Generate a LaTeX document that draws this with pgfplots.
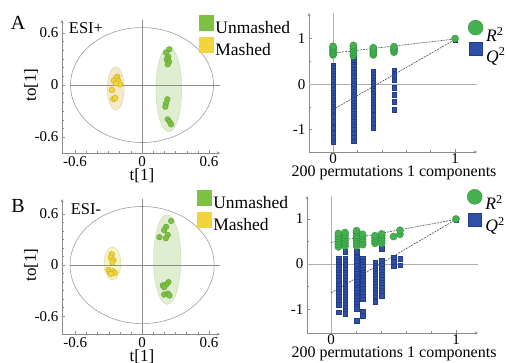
\documentclass[border=0pt]{standalone}
\usepackage{fontspec}
\setmainfont{Liberation Serif}
\usepackage{pgfplots}
\pgfplotsset{compat=1.18}

\definecolor{ugreen}{HTML}{7DC142}
\definecolor{ugreenE}{HTML}{5E9E2E}
\definecolor{uyellow}{HTML}{F2D43C}
\definecolor{uyellowE}{HTML}{C8A81A}
\definecolor{elgreen}{HTML}{DFEDD0}
\definecolor{elgreenE}{HTML}{C5DBAE}
\definecolor{elyelA}{HTML}{F4E8C6}
\definecolor{elyelAE}{HTML}{E0CE9C}
\definecolor{elyelB}{HTML}{F5F2C4}
\definecolor{elyelBE}{HTML}{DEDA9E}
\definecolor{rgreen}{HTML}{45B04F}
\definecolor{rgreenE}{HTML}{2E8B3A}
\definecolor{qblue}{HTML}{2F4FA8}
\definecolor{qblueE}{HTML}{233C86}
\definecolor{axgray}{HTML}{8C8C8C}

\pgfplotsset{
  base/.style={
    scale only axis, anchor=south west,
    axis lines=left,
    axis line style={draw=axgray, line width=0.5pt},
    tick align=inside,
    tick style={draw=axgray, line width=0.4pt},
    major tick length=3pt, minor tick length=2pt,
    /pgf/number format/assume math mode=true,
    ticklabel style={font=\fontsize{15}{15}\selectfont, text=black},
    label style={font=\fontsize{17}{17}\selectfont},
    clip=false,
    legend cell align=left,
    legend style={draw=none, fill=none, inner sep=0pt, outer sep=0pt, anchor=north west, row sep=0pt,
      font=\fontsize{17.5}{17.5}\selectfont,
      /tikz/every odd column/.append style={column sep=2pt}},
  },
  score/.style={base, xtick={-0.6,0,0.6}, ytick={-0.6,0,0.6},
     minor tick num=5,
     xlabel={t[1]}, ylabel={to[1]}},
  perm/.style={base, xtick={0,1}, ytick={-1,0,1},
     minor xtick={-0.2,0.2,0.4,0.6,0.8}, minor ytick={-0.5,0.5},
     xticklabel style={yshift=2pt},
     xlabel style={font=\fontsize{16}{16}\selectfont},
     xlabel={200 permutations 1 components}},
  yel/.style={only marks, mark=*, mark size=2.8pt, mark options={fill=uyellow, draw=uyellowE, line width=0.4pt}, forget plot},
  grn/.style={only marks, mark=*, mark size=2.8pt, mark options={fill=ugreen, draw=ugreenE, line width=0.4pt}, forget plot},
  rr/.style={only marks, mark=*, mark size=3.6pt, mark options={fill=rgreen, draw=rgreenE, line width=0.3pt}, forget plot},
  qq/.style={only marks, mark=square*, mark size=2.3pt, mark options={fill=qblue, draw=qblueE, line width=0.3pt}, forget plot},
  reg/.style={dash pattern=on 2pt off 1pt, draw=black!70, line width=0.6pt, forget plot, mark=none},
}

\begin{document}
\begin{tikzpicture}
\useasboundingbox (0pt,0pt) rectangle (508pt,362pt);

% ---------------- A left: score plot ESI+
\begin{axis}[score, at={(62pt,209pt)}, width=158pt, height=133pt,
  xmin=-0.716, xmax=0.698, ymin=-0.784, ymax=0.75,
  xlabel style={at={(axis description cs:0.506,-0.173)}, anchor=center},
  ylabel style={at={(axis description cs:-0.196,0.511)}, anchor=center},
  legend style={at={(axis description cs:0.867,1.038)},
    nodes={inner sep=0pt, text height=13.5pt, text depth=3.5pt}}]
\addlegendimage{legend image code/.code={\fill[ugreen] (0pt,-1.7pt) rectangle (14pt,13.3pt);}}
\addlegendentry{Unmashed}
\addlegendimage{legend image code/.code={\fill[uyellow] (0pt,-1.7pt) rectangle (14pt,13.3pt);}}
\addlegendentry{Mashed}
\draw[axgray!85, line width=0.6pt] (axis cs:0,0) ellipse [x radius=0.64, y radius=0.663];
\draw[fill=elyelA, draw=elyelAE, line width=0.4pt] (axis cs:-0.235,-0.04) ellipse [x radius=0.075, y radius=0.25];
\draw[fill=elgreen, draw=elgreenE, line width=0.4pt] (axis cs:0.24,-0.048) ellipse [x radius=0.115, y radius=0.49];
\draw[axgray, line width=0.5pt] (axis cs:-0.645,0) -- (axis cs:0.698,0);
\draw[axgray, line width=0.5pt] (axis cs:0,-0.784) -- (axis cs:0,0.75);
\addplot[yel] coordinates {(-0.221,0.096) (-0.233,0.077) (-0.251,0.050) (-0.212,0.046) (-0.197,0.008)
  (-0.233,0.019) (-0.269,-0.058) (-0.257,-0.162) (-0.241,-0.150)};
\addplot[grn] coordinates {(0.245,0.412) (0.215,0.373) (0.236,0.327) (0.221,0.296) (0.242,0.269) (0.230,0.239)
  (0.227,-0.165) (0.215,-0.211) (0.209,-0.250) (0.230,-0.396) (0.248,-0.427) (0.260,-0.454)};
\node[font=\fontsize{16.5}{16.5}\selectfont] at (axis description cs:0.152,0.94) {ESI+};
\end{axis}

% ---------------- A right: permutations
\begin{axis}[perm, at={(309pt,210pt)}, width=168pt, height=139pt,
  xmin=-0.197, xmax=1.18, ymin=-1.49, ymax=1.56,
  xlabel style={at={(axis description cs:0.506,-0.151)}, anchor=center},
  legend style={at={(axis description cs:0.946,0.95)},
    nodes={inner sep=0pt, text height=14.5pt, text depth=0.7pt},
    /tikz/every odd column/.append style={column sep=3pt}}]
\addlegendimage{legend image code/.code={\fill[rgreen, draw=rgreenE, line width=0.3pt] (7.5pt,7pt) circle (7.5pt);}}
\addlegendentry{\textit{R}\textsuperscript{2}}
\addlegendimage{legend image code/.code={\fill[qblue, draw=qblueE, line width=0.3pt] (1pt,0pt) rectangle (14pt,13pt);}}
\addlegendentry{\textit{Q}\textsuperscript{2}}
\draw[axgray!70, line width=0.5pt] (axis cs:-0.197,0) -- (axis cs:1.18,0);
\draw[axgray!70, line width=0.5pt] (axis cs:0,-1.49) -- (axis cs:0,1.56);
\addplot[qq] coordinates {
 (0,0.42) (0,0.36) (0,0.30) (0,0.24) (0,0.18) (0,0.12) (0,0.06) (0,0.00) (0,-0.06) (0,-0.12) (0,-0.18)
 (0,-0.24) (0,-0.30) (0,-0.36) (0,-0.42) (0,-0.48) (0,-0.54) (0,-0.60) (0,-0.66) (0,-0.72)
 (0,-0.83) (0,-0.95) (0,-1.06) (0,-1.17) (0,-1.27)
 (0.167,0.56) (0.167,0.50) (0.167,0.44) (0.167,0.38) (0.167,0.32) (0.167,0.26) (0.167,0.20) (0.167,0.14)
 (0.167,0.08) (0.167,0.02) (0.167,-0.04) (0.167,-0.10) (0.167,-0.16) (0.167,-0.22) (0.167,-0.28)
 (0.167,-0.34) (0.167,-0.40) (0.167,-0.46) (0.167,-0.52) (0.167,-0.58) (0.167,-0.64) (0.167,-0.70)
 (0.167,-0.76) (0.167,-0.82) (0.167,-0.88) (0.167,-0.94) (0.167,-1.00) (0.167,-1.08) (0.167,-1.17) (0.167,-1.25)
 (0.33,0.27) (0.33,0.21) (0.33,0.15) (0.33,0.09) (0.33,0.03) (0.33,-0.03) (0.33,-0.09) (0.33,-0.15)
 (0.33,-0.21) (0.33,-0.27) (0.33,-0.33) (0.33,-0.39) (0.33,-0.45) (0.33,-0.51) (0.33,-0.57)
 (0.33,-0.68) (0.33,-0.78) (0.33,-0.86) (0.33,-0.95)
 (0.5,0.31) (0.5,0.24) (0.5,0.18) (0.5,0.09) (0.5,-0.08) (0.5,-0.23) (0.5,-0.39) (0.5,-0.56)
 (1,0.97)};
\addplot[rr] coordinates {
 (0,0.64) (0,0.68) (0,0.72) (0,0.76) (0,0.80) (0,0.83)
 (0.167,0.62) (0.167,0.66) (0.167,0.70) (0.167,0.74) (0.167,0.78) (0.167,0.82) (0.167,0.85)
 (0.33,0.64) (0.33,0.68) (0.33,0.72) (0.33,0.76) (0.33,0.80)
 (0.5,0.70) (0.5,0.74) (0.5,0.78) (0.5,0.82)
 (1,1.0)};
\addplot[reg] coordinates {(0,0.68) (1,0.99)};
\addplot[reg] coordinates {(0,-0.56) (1,0.98)};
\end{axis}

% ---------------- B left: score plot ESI-
\begin{axis}[score, at={(62pt,28pt)}, width=158pt, height=135pt,
  xmin=-0.72, xmax=0.70, ymin=-0.81, ymax=0.776,
  xlabel style={at={(axis description cs:0.506,-0.170)}, anchor=center},
  ylabel style={at={(axis description cs:-0.196,0.511)}, anchor=center},
  legend style={at={(axis description cs:0.854,1.067)},
    nodes={inner sep=0pt, text height=13.5pt, text depth=3.5pt}}]
\addlegendimage{legend image code/.code={\fill[ugreen] (0pt,-1.7pt) rectangle (14pt,13.3pt);}}
\addlegendentry{Unmashed}
\addlegendimage{legend image code/.code={\fill[uyellow] (0pt,-1.7pt) rectangle (14pt,13.3pt);}}
\addlegendentry{Mashed}
\draw[axgray!85, line width=0.6pt] (axis cs:0,0) ellipse [x radius=0.648, y radius=0.688];
\draw[fill=elyelB, draw=elyelBE, line width=0.4pt] (axis cs:-0.267,0.019) ellipse [x radius=0.075, y radius=0.195];
\draw[fill=elgreen, draw=elgreenE, line width=0.4pt] (axis cs:0.225,0.065) ellipse [x radius=0.123, y radius=0.527];
\draw[axgray, line width=0.5pt] (axis cs:-0.65,0) -- (axis cs:0.70,0);
\draw[axgray, line width=0.5pt] (axis cs:0,-0.81) -- (axis cs:0,0.776);
\addplot[yel] coordinates {(-0.273,0.127) (-0.282,0.089) (-0.258,0.058) (-0.267,0.031) (-0.303,-0.058)
  (-0.288,-0.085) (-0.264,-0.073) (-0.246,-0.092) (-0.279,-0.104)};
\addplot[grn] coordinates {(0.261,0.519) (0.216,0.450) (0.198,0.410) (0.231,0.354) (0.156,0.327) (0.213,0.315)
  (0.237,-0.200) (0.216,-0.231) (0.186,-0.238) (0.198,-0.261) (0.198,-0.346) (0.231,-0.335) (0.246,-0.358)};
\node[font=\fontsize{16.5}{16.5}\selectfont] at (axis description cs:0.152,0.926) {ESI-};
\end{axis}

% ---------------- B right: permutations
\begin{axis}[perm, at={(307pt,29pt)}, width=171pt, height=137pt,
  xmin=-0.192, xmax=1.176, ymin=-1.53, ymax=1.51,
  xlabel style={at={(axis description cs:0.509,-0.153)}, anchor=center},
  legend style={at={(axis description cs:0.936,1.05)},
    nodes={inner sep=0pt, text height=14.5pt, text depth=3pt},
    /tikz/every odd column/.append style={column sep=3pt}}]
\addlegendimage{legend image code/.code={\fill[rgreen, draw=rgreenE, line width=0.3pt] (7.5pt,7pt) circle (7.5pt);}}
\addlegendentry{\textit{R}\textsuperscript{2}}
\addlegendimage{legend image code/.code={\fill[qblue, draw=qblueE, line width=0.3pt] (1pt,0pt) rectangle (14pt,13pt);}}
\addlegendentry{\textit{Q}\textsuperscript{2}}
\draw[axgray!70, line width=0.5pt] (axis cs:-0.192,0) -- (axis cs:1.176,0);
\draw[axgray!70, line width=0.5pt] (axis cs:0,-1.53) -- (axis cs:0,1.51);
\addplot[qq] coordinates {
 (0.059,0.12) (0.059,0.06) (0.059,0.00) (0.059,-0.06) (0.059,-0.12) (0.059,-0.18) (0.059,-0.24) (0.059,-0.30)
 (0.059,-0.36) (0.059,-0.42) (0.059,-0.48) (0.059,-0.54) (0.059,-0.60) (0.059,-0.66) (0.059,-0.72)
 (0.059,-0.78) (0.059,-0.84) (0.059,-0.90) (0.059,-1.07)
 (0.112,0.28) (0.112,0.12) (0.112,0.06) (0.112,0.00) (0.112,-0.06) (0.112,-0.12) (0.112,-0.18) (0.112,-0.24)
 (0.112,-0.30) (0.112,-0.36) (0.112,-0.42) (0.112,-0.48) (0.112,-0.54) (0.112,-0.60) (0.112,-0.66)
 (0.112,-0.72) (0.112,-0.78) (0.112,-0.84) (0.112,-0.90) (0.112,-0.96) (0.112,-1.02) (0.112,-1.10)
 (0.205,0.28) (0.205,0.15) (0.205,0.09) (0.205,0.03) (0.205,-0.03) (0.205,-0.09) (0.205,-0.15) (0.205,-0.21)
 (0.205,-0.27) (0.205,-0.33) (0.205,-0.39) (0.205,-0.45) (0.205,-0.51) (0.205,-0.57) (0.205,-0.63)
 (0.205,-0.69) (0.205,-0.75) (0.205,-0.81) (0.205,-0.87) (0.205,-0.93) (0.205,-0.99) (0.205,-1.25)
 (0.253,0.12) (0.253,0.06) (0.253,0.00) (0.253,-0.06) (0.253,-0.12) (0.253,-0.18) (0.253,-0.24) (0.253,-0.30)
 (0.253,-0.36) (0.253,-0.42) (0.253,-0.48) (0.253,-0.54) (0.253,-0.60) (0.253,-0.66) (0.253,-0.72)
 (0.253,-0.78) (0.253,-1.05) (0.253,-1.14)
 (0.352,0.04) (0.352,-0.02) (0.352,-0.08) (0.352,-0.14) (0.352,-0.20) (0.352,-0.26) (0.352,-0.32)
 (0.352,-0.38) (0.352,-0.44) (0.352,-0.50) (0.352,-0.56) (0.352,-0.62) (0.352,-0.68) (0.352,-0.74)
 (0.352,-0.80) (0.352,-0.84)
 (0.405,0.34) (0.405,0.08) (0.405,0.02) (0.405,-0.04) (0.405,-0.10) (0.405,-0.16) (0.405,-0.22)
 (0.405,-0.28) (0.405,-0.34) (0.405,-0.40) (0.405,-0.46) (0.405,-0.52) (0.405,-0.58) (0.405,-0.64) (0.405,-0.70)
 (0.5,0.15) (0.5,0.05) (0.5,-0.05)
 (0.552,0.12) (0.552,-0.02)
 (1,0.99)};
\addplot[rr] coordinates {
 (0.059,0.38) (0.059,0.44) (0.059,0.50) (0.059,0.56) (0.059,0.62) (0.059,0.68)
 (0.112,0.40) (0.112,0.46) (0.112,0.52) (0.112,0.58) (0.112,0.64) (0.112,0.70)
 (0.205,0.40) (0.205,0.46) (0.205,0.52) (0.205,0.58) (0.205,0.64) (0.205,0.70) (0.205,0.74)
 (0.253,0.43) (0.253,0.49) (0.253,0.55) (0.253,0.61) (0.253,0.66)
 (0.352,0.46) (0.352,0.52) (0.352,0.58) (0.352,0.63)
 (0.405,0.46) (0.405,0.52) (0.405,0.58) (0.405,0.64) (0.405,0.67)
 (0.5,0.61)
 (0.552,0.66) (0.552,0.75)
 (1,1.0)};
\addplot[reg] coordinates {(0,0.48) (1,0.99)};
\addplot[reg] coordinates {(0,-0.64) (1,0.99)};
\end{axis}

\node[font=\fontsize{20}{20}\selectfont] at (18pt,339pt) {A};
\node[font=\fontsize{20}{20}\selectfont] at (18pt,156pt) {B};
\end{tikzpicture}
\end{document}
